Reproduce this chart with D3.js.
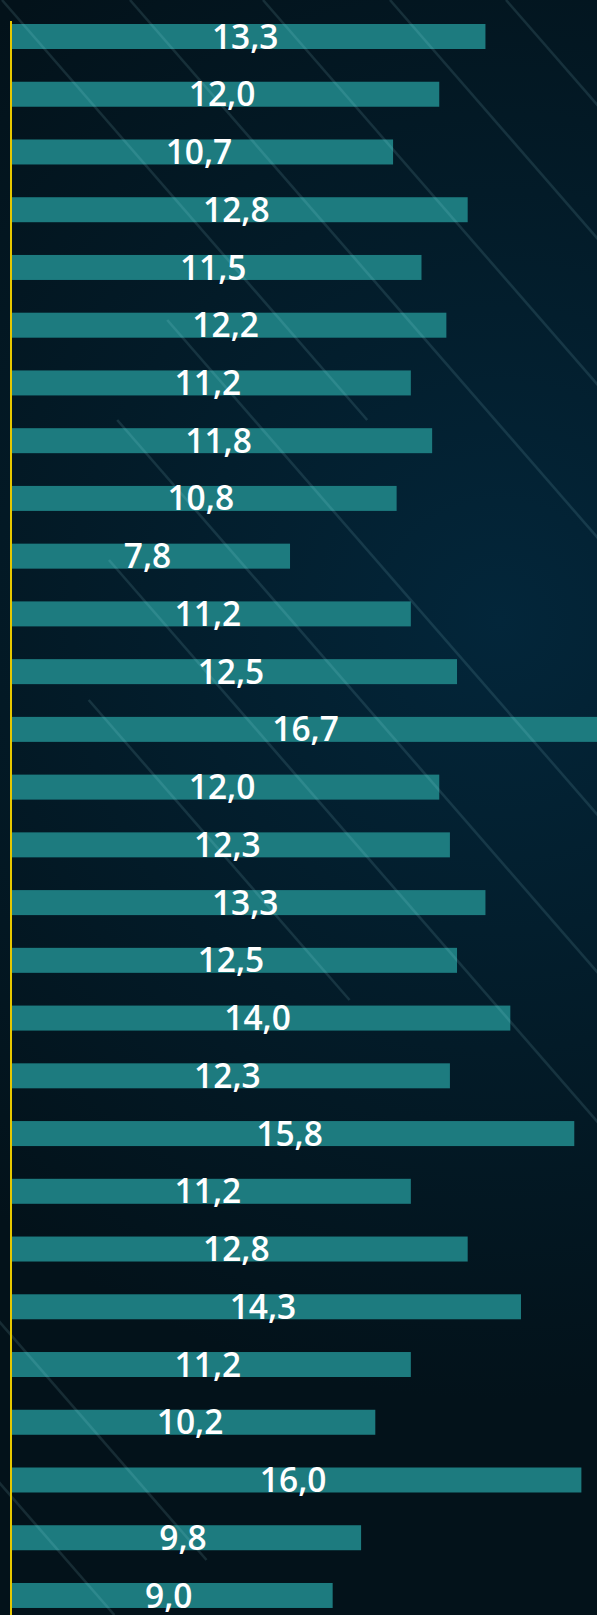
<!DOCTYPE html>
<html>
<head>
<meta charset="utf-8">
<script src="https://cdn.jsdelivr.net/npm/d3@7"></script>
<style>
  html, body { margin: 0; padding: 0; background: #03141d; }
  svg { display: block; }
</style>
</head>
<body>
<div id="chart"></div>
<script>
// Row keys (no category labels are drawn) and their values
const rows = d3.range(1, 29).map(String);
const values = [13.3, 12.0, 10.7, 12.8, 11.5, 12.2, 11.2, 11.8, 10.8, 7.8,
                11.2, 12.5, 16.7, 12.0, 12.3, 13.3, 12.5, 14.0, 12.3, 15.8,
                11.2, 12.8, 14.3, 11.2, 10.2, 16.0, 9.8, 9.0];
const valueDomain = [0, 16.7];

const W = 597, H = 1615;
const fmt = v => d3.format(".1f")(v).replace(".", ",");

const svg = d3.select("#chart").append("svg")
  .attr("width", W).attr("height", H);

const defs = svg.append("defs");

// Backdrop: dark navy with a bluish glow toward the right middle
const bg = defs.append("radialGradient").attr("id", "bgGlow")
  .attr("gradientUnits", "userSpaceOnUse")
  .attr("cx", 500).attr("cy", 620).attr("r", 780);
bg.append("stop").attr("offset", 0).attr("stop-color", "#03263a");
bg.append("stop").attr("offset", 0.55).attr("stop-color", "#031b28");
bg.append("stop").attr("offset", 1).attr("stop-color", "#03121a");

svg.append("rect").attr("width", W).attr("height", H).attr("fill", "url(#bgGlow)");

// Scales
const x = d3.scaleLinear().domain(valueDomain).range([12.9, 12.9 + 35.53 * 16.7]);
const y = d3.scaleBand().domain(rows)
  .range([7.63, 7.63 + 28 * 57.74])
  .paddingInner(0.567).paddingOuter(0.2835);

// Bars
svg.append("g").selectAll("rect")
  .data(values)
  .join("rect")
  .attr("x", 10)
  .attr("y", (d, i) => y(rows[i]))
  .attr("width", d => x(d) - 10)
  .attr("height", y.bandwidth())
  .attr("fill", "#1d7b7f");

// Faint diagonal light streaks, softened
defs.append("filter").attr("id", "soft")
  .attr("x", "-10%").attr("y", "-10%").attr("width", "120%").attr("height", "120%")
  .append("feGaussianBlur").attr("stdDeviation", 0.7);

// each streak: x where it meets the top edge, then the vertical span it is visible over
const streaks = [
  { x0: 2,    y1: 0,   y2: 420 },
  { x0: 130,  y1: 0,   y2: 560 },
  { x0: 263,  y1: 0,   y2: 500 },
  { x0: 390,  y1: 0,   y2: 260 },
  { x0: 506,  y1: 0,   y2: 180 },
  { x0: -111, y1: 320, y2: 900 },
  { x0: -248, y1: 420, y2: 1080 },
  { x0: -378, y1: 560, y2: 1140 },
  { x0: -520, y1: 700, y2: 1000 },
  { x0: -1150, y1: 1290, y2: 1560 },
  { x0: -1290, y1: 1420, y2: 1615 }
];
const slope = 1.15;
svg.append("g").attr("filter", "url(#soft)").selectAll("line")
  .data(streaks)
  .join("line")
  .attr("x1", d => d.x0 + d.y1 / slope)
  .attr("y1", d => d.y1)
  .attr("x2", d => d.x0 + d.y2 / slope)
  .attr("y2", d => d.y2)
  .attr("stroke", "#a8e8f2")
  .attr("stroke-opacity", 0.12)
  .attr("stroke-width", 2.6);

// Value labels
svg.append("g").selectAll("text")
  .data(values)
  .join("text")
  .attr("x", d => (x(d) + x(0)) / 2 - 4)
  .attr("y", (d, i) => y(rows[i]) + y.bandwidth() / 2)
  .attr("dy", "0.36em")
  .attr("text-anchor", "middle")
  .attr("fill", "#ffffff")
  .style("font-family", "'Open Sans', 'Noto Sans', sans-serif")
  .style("font-weight", 600)
  .style("font-size", "33.5px")
  .text(fmt);

// Baseline axis line in yellow
svg.append("rect")
  .attr("x", 10).attr("y", 21)
  .attr("width", 2).attr("height", H - 21)
  .attr("fill", "#e6c800");
</script>
</body>
</html>
